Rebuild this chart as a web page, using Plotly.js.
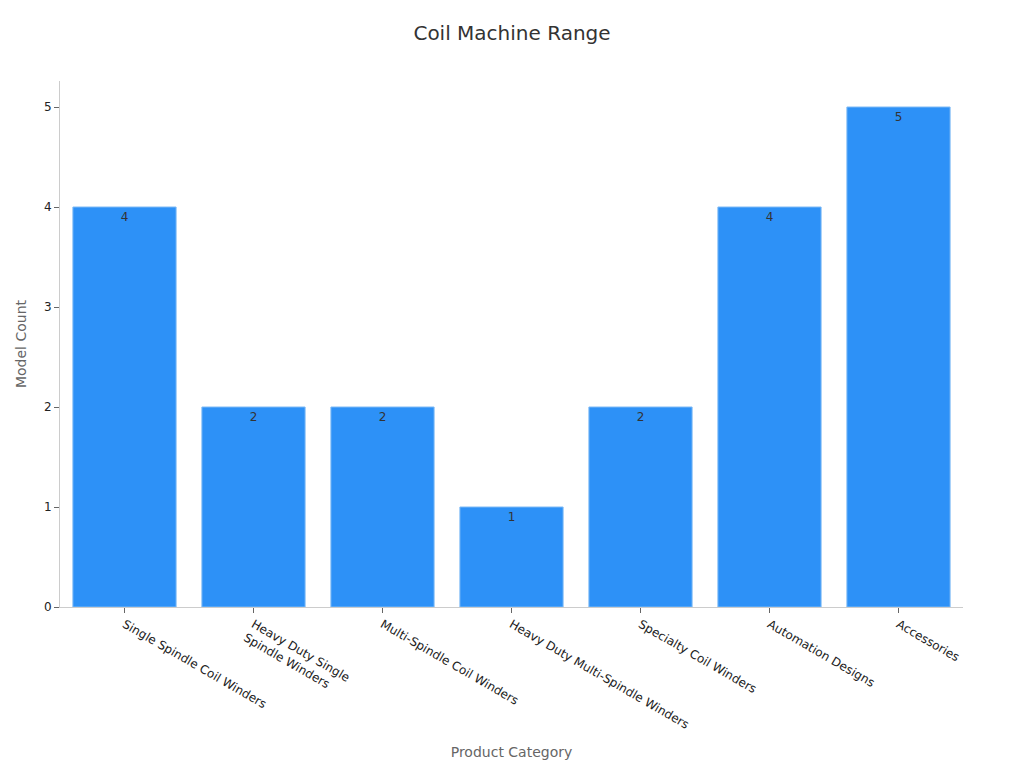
<!DOCTYPE html>
<html>
<head>
<meta charset="utf-8">
<script src="https://cdn.plot.ly/plotly-3.0.1.min.js"></script>
<style>body{margin:0;}#chart{width:1024px;height:768px;}</style>
</head>
<body>
<div id="chart"></div>
<script>
var categories = ['Single Spindle Coil Winders', 'Heavy Duty Single<br>Spindle Winders', 'Multi-Spindle Coil Winders',
  'Heavy Duty Multi-Spindle Winders', 'Specialty Coil Winders', 'Automation Designs', 'Accessories'];
var modelCounts = [4, 2, 2, 1, 2, 4, 5];

var trace = {
  type: 'bar',
  x: categories,
  y: modelCounts,
  text: modelCounts.map(String),
  textposition: 'inside',
  insidetextanchor: 'end',
  textfont: { color: '#333', size: 12 },
  marker: { color: '#2d91f7', line: { color: '#7fbaf5', width: 1 } },
  hoverinfo: 'none'
};

var layout = {
  width: 1024,
  height: 768,
  font: { family: 'DejaVu Sans, sans-serif', size: 12, color: '#222' },
  title: { text: 'Coil Machine Range', font: { size: 20, color: '#333' }, x: 0.5, y: 0.957, yanchor: 'middle' },
  xaxis: {
    title: { text: 'Product Category', font: { size: 14, color: '#666' }, standoff: 16 },
    tickangle: 30,
    ticks: 'outside',
    ticklen: 5,
    tickcolor: '#666',
    showline: true,
    linecolor: '#ccc',
    linewidth: 1
  },
  yaxis: {
    title: { text: 'Model Count', font: { size: 14, color: '#666' }, standoff: 14 },
    range: [0, 5.26],
    dtick: 1,
    ticks: 'outside',
    ticklen: 5,
    tickcolor: '#666',
    showline: true,
    linecolor: '#ccc',
    linewidth: 1,
    showgrid: false,
    zeroline: false
  },
  bargap: 0.2,
  margin: { t: 81, b: 161, l: 60, r: 61, pad: 0 },
  plot_bgcolor: '#fff',
  paper_bgcolor: '#fff',
  showlegend: false
};

Plotly.newPlot('chart', [trace], layout, { displayModeBar: false });
</script>
</body>
</html>
